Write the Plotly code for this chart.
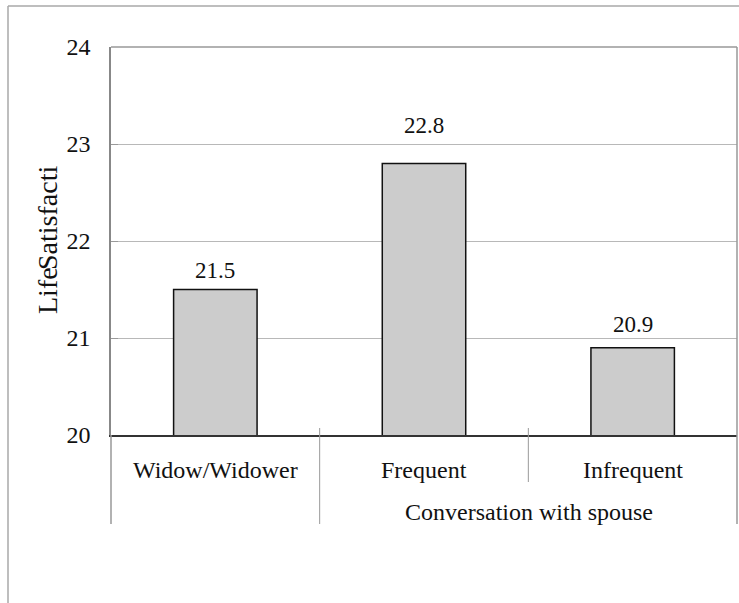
import plotly.graph_objects as go

# Data
categories = ["Widow/Widower", "Frequent", "Infrequent"]
values = [21.5, 22.8, 20.9]
group_label = "Conversation with spouse"
y_ticks = [20, 21, 22, 23, 24]

# Vertical pixel offsets of the value labels above each bar
label_shift = [19, 38, 23]

FONT = "Liberation Serif"
W, H = 739, 603
L, R, T, B = 111, 2, 47, 168
plot_h = H - T - B
plot_w = W - L - R


def py(pixel_y):
    """Pixel row -> paper y coordinate."""
    return (H - B - pixel_y) / plot_h


def px(pixel_x):
    """Pixel column -> paper x coordinate."""
    return (pixel_x - L) / plot_w


fig = go.Figure()
fig.add_trace(go.Bar(
    x=categories,
    y=values,
    width=0.4,
    marker=dict(color="#cccccc", line=dict(color="#111111", width=1.5)),
    hoverinfo="x+y",
))

# Value labels above the bars
for cat, val, shift in zip(categories, values, label_shift):
    fig.add_annotation(x=cat, y=val, xref="x", yref="y", text=f"{val}",
                       showarrow=False, xanchor="center", yanchor="middle",
                       yshift=shift,
                       font=dict(family=FONT, size=23, color="#111111"))

# Category labels under the axis
for cat in categories:
    fig.add_annotation(x=cat, y=py(470), xref="x", yref="paper", text=cat,
                       showarrow=False, xanchor="center", yanchor="middle",
                       font=dict(family=FONT, size=24, color="#111111"))

# Group label spanning the two conversation categories
fig.add_annotation(x=px(529), y=py(512), xref="paper", yref="paper",
                   text=group_label, showarrow=False,
                   xanchor="center", yanchor="middle",
                   font=dict(family=FONT, size=24, color="#111111"))

# Y axis title
fig.add_annotation(x=px(47), y=py(291), xref="paper", yref="paper",
                   text="Life", textangle=-90, showarrow=False,
                   xanchor="center", yanchor="middle",
                   font=dict(family=FONT, size=28, color="#111111"))
fig.add_annotation(x=px(47), y=py(218), xref="paper", yref="paper",
                   text="Satisfacti", textangle=-90, showarrow=False,
                   xanchor="center", yanchor="middle",
                   font=dict(family=FONT, size=28, color="#111111"))

shapes = []
border = dict(color="#999999", width=1.5)
# Plot frame: top and right
shapes.append(dict(type="line", xref="paper", yref="paper", x0=0, x1=1, y0=1, y1=1, line=border))
shapes.append(dict(type="line", xref="paper", yref="paper", x0=1, x1=1, y0=1, y1=py(524), line=border))
# Left edge extended below the axis
shapes.append(dict(type="line", xref="paper", yref="paper", x0=0, x1=0, y0=0, y1=py(524), line=border))
# Category dividers
div = dict(color="#999999", width=1)
shapes.append(dict(type="line", xref="x", yref="paper", x0=0.5, x1=0.5, y0=py(428), y1=py(524), line=div))
shapes.append(dict(type="line", xref="x", yref="paper", x0=1.5, x1=1.5, y0=py(428), y1=py(482), line=div))
# Outer chart frame
outer = dict(color="#a8a8a8", width=1.5)
shapes.append(dict(type="line", xref="paper", yref="paper", x0=px(8), x1=px(8), y0=py(6), y1=py(610), line=outer))
shapes.append(dict(type="line", xref="paper", yref="paper", x0=px(8), x1=px(745), y0=py(6), y1=py(6), line=outer))

fig.update_layout(
    width=W, height=H,
    margin=dict(l=L, r=R, t=T, b=B),
    paper_bgcolor="white",
    plot_bgcolor="white",
    showlegend=False,
    bargap=0.6,
    shapes=shapes,
    font=dict(family=FONT, size=22, color="#111111"),
)
fig.update_xaxes(
    range=[-0.5, 2.5],
    showticklabels=False,
    showgrid=False,
    showline=True, linecolor="#333333", linewidth=1.5,
    ticks="",
    zeroline=False,
)
fig.update_yaxes(
    range=[20, 24],
    tickvals=y_ticks,
    ticktext=[str(v) for v in y_ticks],
    showgrid=True, gridcolor="#b8b8b8", gridwidth=1,
    showline=True, linecolor="#888888", linewidth=1.5,
    ticks="inside", ticklen=7, tickcolor="#999999",
    ticklabelstandoff=14,
    tickfont=dict(family=FONT, size=24, color="#111111"),
    zeroline=False,
)

fig.write_html("out.html")
